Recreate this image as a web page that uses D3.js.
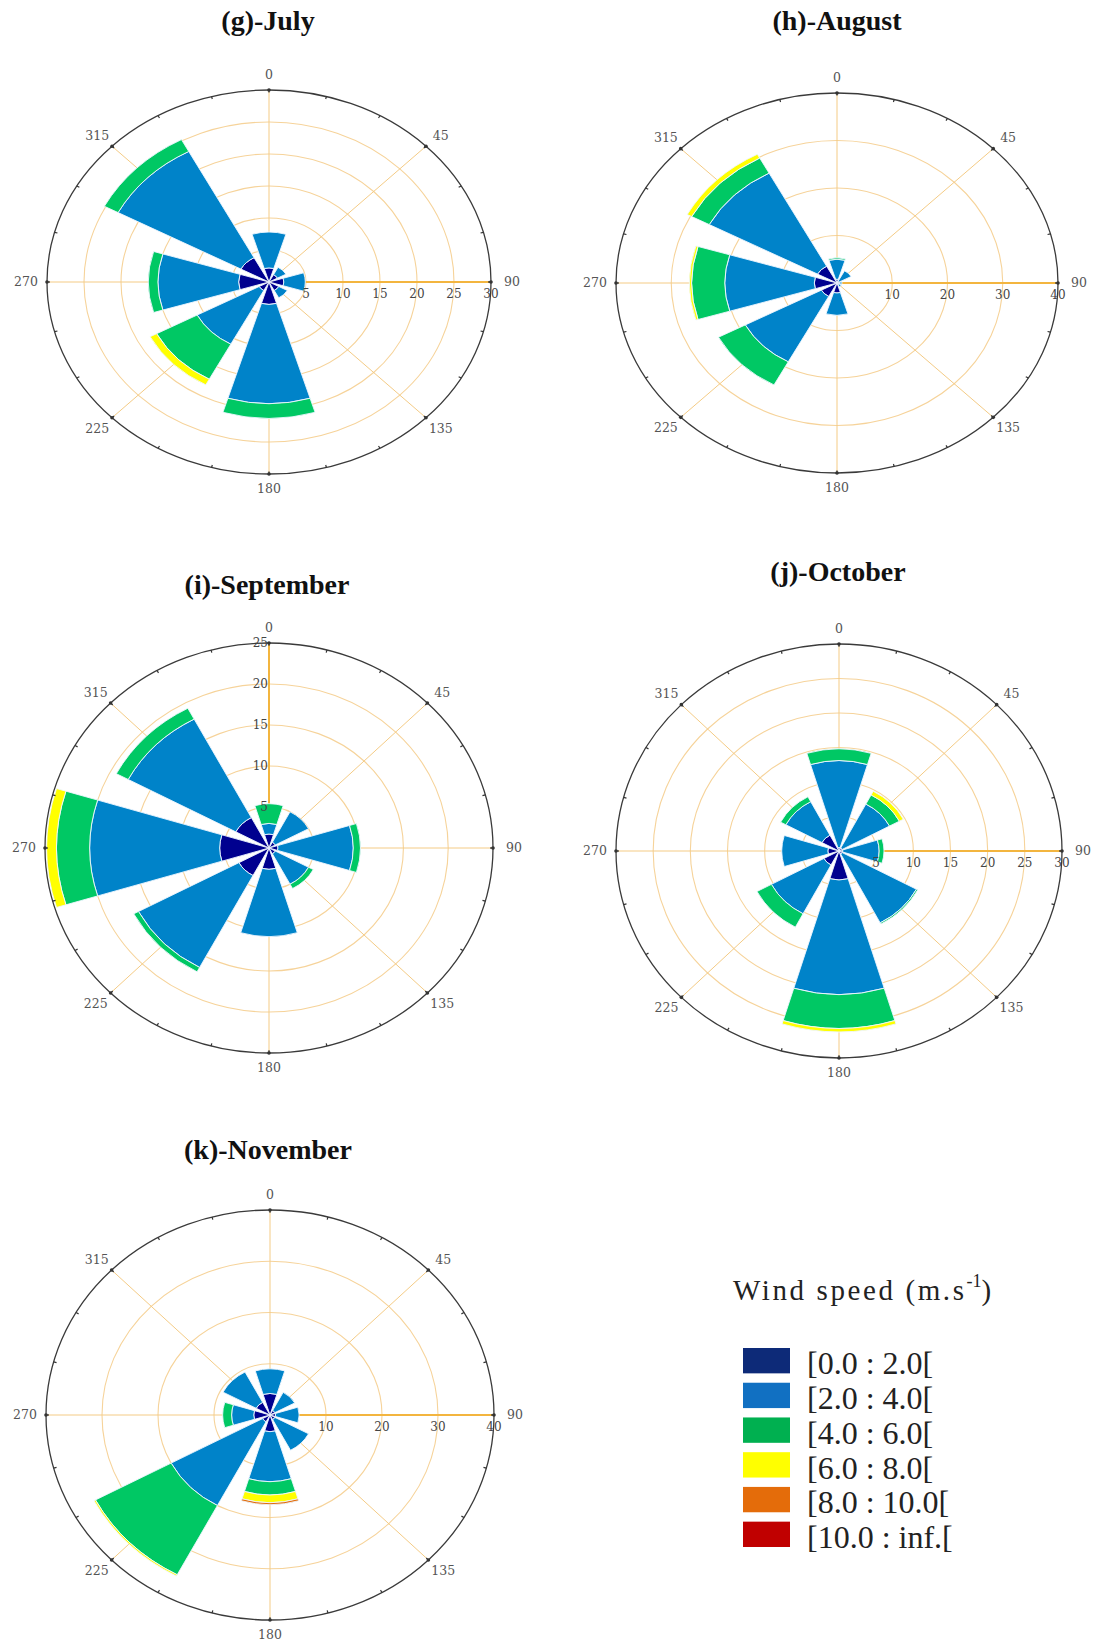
<html>
<head>
<script src="https://d3js.org/d3.v7.min.js"></script>
<style>
    body { margin: 0; background: #fff; }
    .title { font-family: "Liberation Serif", serif; font-weight: bold; font-size: 28px; fill: #111; }
    .dirlabel { font-family: "DejaVu Serif", serif; font-size: 12.5px; fill: #555; }
    .rlabel { font-family: "DejaVu Serif", serif; font-size: 12px; fill: #444; }
    .legend text { font-family: "Liberation Serif", serif; fill: #222; }
</style>
</head>
<body>
<svg id="roses" width="1095" height="1642"></svg>
<script>
// wind directions (deg) and speed classes
const directions = [0, 45, 90, 135, 180, 225, 270, 315];
const speedClasses = ["[0.0 : 2.0[", "[2.0 : 4.0[", "[4.0 : 6.0[", "[6.0 : 8.0[", "[8.0 : 10.0[", "[10.0 : inf.["];

// frequency (%) per direction, one value per speed class
const july = [
    [2.2, 5.6],
    [1.3, 1.3],
    [2.0, 2.9],
    [1.5, 1.3],
    [3.5, 15.5, 2.3],
    [1.5, 9.5, 6.2, 1.0],
    [4.1, 10.9, 1.3],
    [4.3, 18.8, 2.1]
];
const august = [
    [0.8, 4.2, 0.3],
    [0.5, 2.4],
    [0.5, 0.4],
    [0.4, 0.5],
    [2.1, 4.7],
    [3.2, 15.6, 5.5],
    [4.1, 16.2, 6.0, 0.4],
    [4.0, 22.2, 3.6, 0.9]
];
const september = [
    [1.7, 1.3, 2.4],
    [0.8, 4.2],
    [1.0, 8.4, 0.8],
    [0.8, 4.2, 0.6],
    [2.6, 8.2],
    [3.8, 12.7, 0.6],
    [5.5, 14.5, 3.7, 1.1],
    [4.2, 13.6, 1.5]
];
const october = [
    [0.5, 12.6, 1.7],
    [0.5, 7.2, 1.5, 0.6],
    [0.5, 4.9, 0.65],
    [0.5, 11.3, 0.2],
    [4.2, 16.6, 4.9, 0.5],
    [2.3, 8.0, 2.2],
    [1.5, 6.2],
    [2.6, 5.5, 0.8]
];
const november = [
    [4.2, 4.8],
    [1.0, 4.0],
    [1.0, 4.2],
    [1.0, 6.8],
    [3.25, 9.75, 2.6, 1.5, 0.4],
    [1.5, 18.5, 15.3, 0.3],
    [2.9, 3.95, 1.6],
    [2.8, 6.7]
];

// radial tick labels of each panel
const julyTicks = [5, 10, 15, 20, 25, 30];
const augustTicks = [10, 20, 30, 40];
const septemberTicks = [5, 10, 15, 20, 25];
const octoberTicks = [5, 10, 15, 20, 25, 30];
const novemberTicks = [10, 20, 30, 40];

const barColors = ["#00008f", "#0083c9", "#00c864", "#ffff00", "#e36c09", "#c00000"];
const legendColors = ["#0d2a78", "#1170c2", "#00b050", "#ffff00", "#e46c0a", "#c00000"];

const panels = [
    { title: "(g)-July", data: july, ticks: julyTicks, cx: 269, cy: 282, rx: 222, ry: 192, axis: 90, tx: 268, ty: 30 },
    { title: "(h)-August", data: august, ticks: augustTicks, cx: 837, cy: 283, rx: 221, ry: 190, axis: 90, tx: 837, ty: 30 },
    { title: "(i)-September", data: september, ticks: septemberTicks, cx: 269, cy: 848, rx: 224, ry: 205, axis: 0, tx: 267, ty: 594 },
    { title: "(j)-October", data: october, ticks: octoberTicks, cx: 839, cy: 851, rx: 223, ry: 207, axis: 90, tx: 838, ty: 581 },
    { title: "(k)-November", data: november, ticks: novemberTicks, cx: 270, cy: 1415, rx: 224, ry: 205, axis: 90, tx: 268, ty: 1159 }
];

const svg = d3.select("#roses");
const angle = d3.scaleLinear().domain([0, 360]).range([0, 2 * Math.PI]);
const halfWidth = angle(17);

function drawRose(p) {
    const k = p.ry / p.rx;
    const rmax = d3.max(p.ticks);
    const r = d3.scaleLinear().domain([0, rmax]).range([0, p.rx]);

    svg.append("text")
        .attr("class", "title")
        .attr("x", p.tx)
        .attr("y", p.ty)
        .attr("text-anchor", "middle")
        .text(p.title);

    const g = svg.append("g").attr("transform", `translate(${p.cx},${p.cy})`);
    // everything inside plot is drawn on a circle and squashed into the ellipse
    const plot = g.append("g").attr("transform", `scale(1,${k})`);

    plot.selectAll("circle.ring").data(p.ticks.filter(t => t < rmax))
        .join("circle")
        .attr("class", "ring")
        .attr("r", d => r(d))
        .attr("fill", "none")
        .attr("stroke", "#f6d39a")
        .attr("stroke-width", 1.1)
        .attr("vector-effect", "non-scaling-stroke");

    plot.selectAll("line.spoke").data(directions)
        .join("line")
        .attr("class", "spoke")
        .attr("x1", 0).attr("y1", 0)
        .attr("x2", d => r(rmax) * Math.sin(angle(d)))
        .attr("y2", d => -r(rmax) * Math.cos(angle(d)))
        .attr("stroke", "#f4cb85")
        .attr("stroke-width", 1)
        .attr("vector-effect", "non-scaling-stroke");

    // radial axis line
    plot.append("line")
        .attr("x1", 0).attr("y1", 0)
        .attr("x2", r(rmax) * Math.sin(angle(p.axis)))
        .attr("y2", -r(rmax) * Math.cos(angle(p.axis)))
        .attr("stroke", "#f3b53f")
        .attr("stroke-width", 2)
        .attr("vector-effect", "non-scaling-stroke");

    // radial labels (drawn under the bars)
    g.selectAll("text.rlabel").data(p.ticks)
        .join("text")
        .attr("class", "rlabel")
        .attr("x", d => p.axis === 90 ? r(d) : -1)
        .attr("y", d => p.axis === 90 ? 16 : -r(d) * k)
        .attr("dy", p.axis === 90 ? 0 : "0.35em")
        .attr("text-anchor", p.axis === 90 ? "middle" : "end")
        .text(d => d);

    // stacked bars
    const stacked = d3.stack()
        .keys(d3.range(speedClasses.length))
        .value((d, key) => d[key] || 0)(p.data);

    const arc = d3.arc()
        .innerRadius(d => r(d.lo))
        .outerRadius(d => r(d.hi))
        .startAngle(d => angle(d.dir) - halfWidth)
        .endAngle(d => angle(d.dir) + halfWidth);

    stacked.forEach((series, i) => {
        const segs = series.map((d, j) => ({ lo: d[0], hi: d[1], dir: directions[j] }))
            .filter(d => d.hi > d.lo);
        plot.append("g")
            .selectAll("path").data(segs)
            .join("path")
            .attr("d", arc)
            .attr("fill", barColors[i])
            .attr("stroke", "#eef6ff")
            .attr("stroke-width", 0.9)
            .attr("vector-effect", "non-scaling-stroke");
    });

    // outer frame
    plot.append("circle")
        .attr("r", r(rmax))
        .attr("fill", "none")
        .attr("stroke", "#3a3a3a")
        .attr("stroke-width", 1.3)
        .attr("vector-effect", "non-scaling-stroke");

    plot.selectAll("line.tick").data(d3.range(0, 360, 15))
        .join("line")
        .attr("class", "tick")
        .attr("x1", d => r(rmax) * Math.sin(angle(d)))
        .attr("y1", d => -r(rmax) * Math.cos(angle(d)))
        .attr("x2", d => (r(rmax) - 3) * Math.sin(angle(d)))
        .attr("y2", d => -(r(rmax) - 3) * Math.cos(angle(d)))
        .attr("stroke", "#333")
        .attr("stroke-width", 1.2)
        .attr("vector-effect", "non-scaling-stroke");

    g.selectAll("circle.dot").data(directions)
        .join("circle")
        .attr("class", "dot")
        .attr("cx", d => r(rmax) * Math.sin(angle(d)))
        .attr("cy", d => -r(rmax) * k * Math.cos(angle(d)))
        .attr("r", 1.8)
        .attr("fill", "#333");

    g.selectAll("text.dirlabel").data(directions)
        .join("text")
        .attr("class", "dirlabel")
        .attr("x", d => (p.rx + 21) * Math.sin(angle(d)))
        .attr("y", d => -(p.ry + 15) * Math.cos(angle(d)))
        .attr("dy", "0.35em")
        .attr("text-anchor", "middle")
        .text(d => d);
}

panels.forEach(drawRose);

// legend
const legend = svg.append("g").attr("class", "legend");
const lt = legend.append("text")
    .attr("x", 733)
    .attr("y", 1300)
    .style("font-size", "29px")
    .style("letter-spacing", "2.6px");
lt.append("tspan").text("Wind speed (m.s");
lt.append("tspan").attr("dy", -13).style("font-size", "18px").style("letter-spacing", "0px").text("-1");
lt.append("tspan").attr("dy", 13).text(")");

const rowY = d3.scaleBand().domain(speedClasses).range([1348, 1547]).paddingInner(0.27);

legend.selectAll("rect").data(speedClasses)
    .join("rect")
    .attr("x", 743)
    .attr("y", d => rowY(d))
    .attr("width", 47)
    .attr("height", rowY.bandwidth())
    .attr("fill", (d, i) => legendColors[i]);

legend.selectAll("text.item").data(speedClasses)
    .join("text")
    .attr("class", "item")
    .attr("x", 807)
    .attr("y", d => rowY(d) + rowY.bandwidth() + 1)
    .style("font-size", "32px")
    .text(d => d);
</script>
</body>
</html>
